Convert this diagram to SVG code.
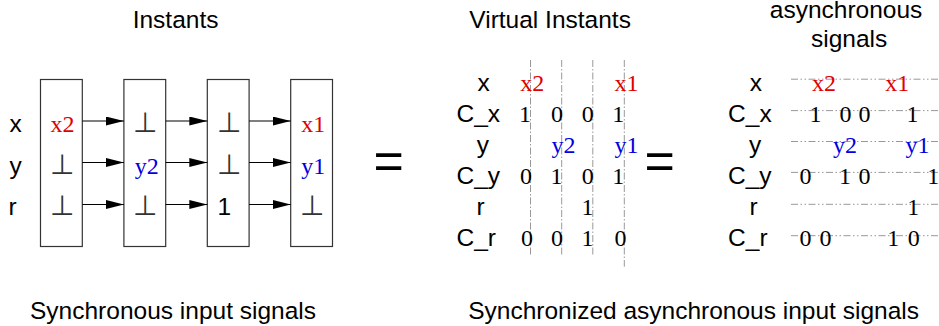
<svg xmlns="http://www.w3.org/2000/svg" width="939" height="326" viewBox="0 0 939 326">
  <defs>
    <marker id="arrowhead" markerUnits="userSpaceOnUse" markerWidth="19" markerHeight="10" refX="18" refY="4.5" orient="auto">
      <path d="M0,0 L18,4.5 L0,9 Z" fill="#000"/>
    </marker>
    <style>
      .sans { font-family: "Liberation Sans", Arial, sans-serif; font-size: 24.5px; fill: #000; }
      .val { font-family: "Liberation Serif", "Times New Roman", serif; font-size: 24px; fill: #000; }
      .red { fill: #e00000; }
      .blue { fill: #0000e0; }
      /* "bottom" (absent value) symbol */
      .bot { font-family: "DejaVu Sans", sans-serif; font-size: 28px; font-weight: 200; fill: #333; }
      .box { fill: #fff; stroke: #333; stroke-width: 1.2; }
      .arrow { stroke: #000; stroke-width: 1.2; fill: none; marker-end: url(#arrowhead); }
      .vgrid { stroke: #999; stroke-width: 1; stroke-dasharray: 7 2 1.5 2; fill: none; }
      .hgrid { stroke: #999; stroke-width: 1; stroke-dasharray: 7 2.5 1.5 2.5 1.5 2.5; fill: none; }
    </style>
  </defs>

  <!-- Titles -->
  <text class="sans" x="132.7" y="28.3">Instants</text>
  <text class="sans" x="469.3" y="28">Virtual Instants</text>
  <text class="sans" x="769.8" y="18">asynchronous</text>
  <text class="sans" x="811" y="47">signals</text>

  <!-- Captions -->
  <text class="sans" x="30" y="318.5">Synchronous input signals</text>
  <text class="sans" x="468.2" y="318.5">Synchronized asynchronous input signals</text>

  <!-- Left: signal names -->
  <g id="signal-labels">
    <text class="sans" x="9.5" y="131.5">x</text>
    <text class="sans" x="9.5" y="173.5">y</text>
    <text class="sans" x="8.5" y="215">r</text>
  </g>

  <!-- Left: the four synchronous instants -->
  <g id="instant-1">
    <rect class="box" x="40.5" y="79.5" width="41.8" height="167"/>
    <text class="val red" x="50.6" y="131.7">x2</text>
    <text class="bot" x="50" y="173.5">⊥</text>
    <text class="bot" x="50" y="215">⊥</text>
  </g>
  <g id="instant-2">
    <rect class="box" x="123.9" y="79.5" width="41.8" height="167"/>
    <text class="bot" x="133.3" y="131.7">⊥</text>
    <text class="val blue" x="134.7" y="173.5">y2</text>
    <text class="bot" x="133.3" y="215">⊥</text>
  </g>
  <g id="instant-3">
    <rect class="box" x="207.3" y="79.5" width="41.8" height="167"/>
    <text class="bot" x="216.7" y="131.7">⊥</text>
    <text class="bot" x="216.7" y="173.5">⊥</text>
    <text class="sans" x="217.5" y="215">1</text>
  </g>
  <g id="instant-4">
    <rect class="box" x="290.7" y="79.5" width="41.8" height="167"/>
    <text class="val red" x="301.3" y="131.7">x1</text>
    <text class="val blue" x="301.3" y="173.5">y1</text>
    <text class="bot" x="300" y="215">⊥</text>
  </g>

  <g id="connectors">
    <line class="arrow" x1="82.3" y1="121" x2="123.9" y2="121"/>
    <line class="arrow" x1="82.3" y1="162.5" x2="123.9" y2="162.5"/>
    <line class="arrow" x1="82.3" y1="204.5" x2="123.9" y2="204.5"/>
    <line class="arrow" x1="165.7" y1="121" x2="207.3" y2="121"/>
    <line class="arrow" x1="165.7" y1="162.5" x2="207.3" y2="162.5"/>
    <line class="arrow" x1="165.7" y1="204.5" x2="207.3" y2="204.5"/>
    <line class="arrow" x1="249.1" y1="121" x2="290.7" y2="121"/>
    <line class="arrow" x1="249.1" y1="162.5" x2="290.7" y2="162.5"/>
    <line class="arrow" x1="249.1" y1="204.5" x2="290.7" y2="204.5"/>
  </g>

  <!-- Equals signs -->
  <text class="sans" x="373.5" y="179" style="font-size:52px">=</text>
  <text class="sans" x="644.5" y="178.5" style="font-size:52px">=</text>

  <!-- Middle: virtual instants with clock columns -->
  <g id="virtual-instants">
    <line class="vgrid" x1="530.5" y1="60" x2="530.5" y2="256.5"/>
    <line class="vgrid" x1="561.7" y1="60" x2="561.7" y2="256.5"/>
    <line class="vgrid" x1="592.8" y1="60" x2="592.8" y2="256.5"/>
    <line class="vgrid" x1="624.3" y1="60" x2="624.3" y2="266.7"/>

    <text class="sans" x="477.5" y="90.5">x</text>
    <text class="sans" x="456.5" y="121.6">C_x</text>
    <text class="sans" x="476.8" y="152.7">y</text>
    <text class="sans" x="456.5" y="183.8">C_y</text>
    <text class="sans" x="476.5" y="214.9">r</text>
    <text class="sans" x="456.5" y="246">C_r</text>

    <text class="val red" x="520.3" y="90.5">x2</text>
    <text class="val red" x="614.5" y="90.5">x1</text>

    <text class="val" x="519" y="121.6">1</text>
    <text class="val" x="551" y="121.6">0</text>
    <text class="val" x="581.7" y="121.6">0</text>
    <text class="val" x="612.3" y="121.6">1</text>

    <text class="val blue" x="551.4" y="152.7">y2</text>
    <text class="val blue" x="614.5" y="152.7">y1</text>

    <text class="val" x="520.1" y="183.8">0</text>
    <text class="val" x="550.6" y="183.8">1</text>
    <text class="val" x="581.7" y="183.8">0</text>
    <text class="val" x="612.3" y="183.8">1</text>

    <text class="val" x="581.6" y="214.9">1</text>

    <text class="val" x="521" y="246">0</text>
    <text class="val" x="551" y="246">0</text>
    <text class="val" x="581.6" y="246">1</text>
    <text class="val" x="614.4" y="246">0</text>
  </g>

  <!-- Right: asynchronous signal lines -->
  <g id="asynchronous-signals">
    <line class="hgrid" x1="791" y1="79.2" x2="939" y2="79.2"/>
    <line class="hgrid" x1="791" y1="110.6" x2="939" y2="110.6"/>
    <line class="hgrid" x1="791" y1="141.5" x2="939" y2="141.5"/>
    <line class="hgrid" x1="791" y1="172.4" x2="939" y2="172.4"/>
    <line class="hgrid" x1="791" y1="204.3" x2="939" y2="204.3"/>
    <line class="hgrid" x1="791" y1="235.7" x2="939" y2="235.7"/>

    <text class="sans" x="749.8" y="90.5">x</text>
    <text class="sans" x="728.1" y="121.6">C_x</text>
    <text class="sans" x="749" y="152.7">y</text>
    <text class="sans" x="728" y="183.8">C_y</text>
    <text class="sans" x="749.4" y="214.9">r</text>
    <text class="sans" x="728.1" y="246">C_r</text>

    <text class="val red" x="812" y="90.5">x2</text>
    <text class="val red" x="885.3" y="90.5">x1</text>

    <text class="val" x="809.6" y="121.6">1</text>
    <text class="val" x="839.4" y="121.6">0</text>
    <text class="val" x="858.4" y="121.6">0</text>
    <text class="val" x="906.6" y="121.6">1</text>

    <text class="val blue" x="833" y="152.7">y2</text>
    <text class="val blue" x="905.4" y="152.7">y1</text>

    <text class="val" x="799.4" y="183.8">0</text>
    <text class="val" x="839" y="183.8">1</text>
    <text class="val" x="858.4" y="183.8">0</text>
    <text class="val" x="927.3" y="183.8">1</text>

    <text class="val" x="907.3" y="214.9">1</text>

    <text class="val" x="799.4" y="246">0</text>
    <text class="val" x="819.4" y="246">0</text>
    <text class="val" x="887.3" y="246">1</text>
    <text class="val" x="907.7" y="246">0</text>
  </g>
</svg>
